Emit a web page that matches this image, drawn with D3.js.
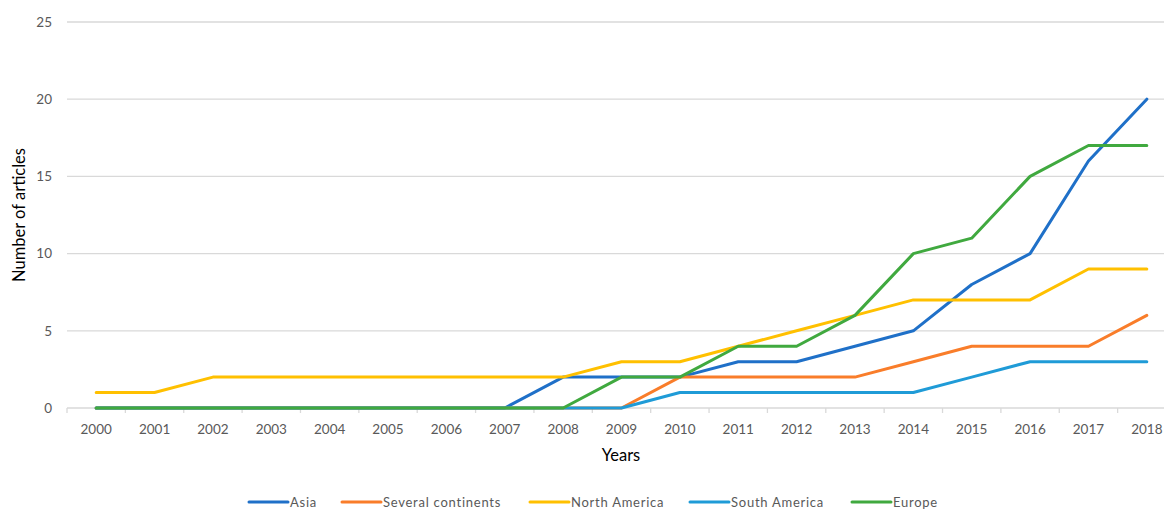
<!DOCTYPE html>
<html>
<head>
<meta charset="utf-8">
<script src="https://cdn.jsdelivr.net/npm/d3@7"></script>
<style>
  html, body { margin: 0; padding: 0; background: #fff; }
  svg { display: block; }
  text { font-family: Lato, "Open Sans", "Liberation Sans", sans-serif; }
</style>
</head>
<body>
<svg id="chart" width="1164" height="510"></svg>
<script>
// Publication counts per region and year
const years = ["2000","2001","2002","2003","2004","2005","2006","2007","2008","2009",
               "2010","2011","2012","2013","2014","2015","2016","2017","2018"];
const asia           = [0,0,0,0,0,0,0,0,2,2,2,3,3,4,5,8,10,16,20];
const severalCont    = [0,0,0,0,0,0,0,0,0,0,2,2,2,2,3,4,4,4,6];
const northAmerica   = [1,1,2,2,2,2,2,2,2,3,3,4,5,6,7,7,7,9,9];
const southAmerica   = [0,0,0,0,0,0,0,0,0,0,1,1,1,1,1,2,3,3,3];
const europe         = [0,0,0,0,0,0,0,0,0,2,2,4,4,6,10,11,15,17,17];
const seriesNames    = ["Asia","Several continents","North America","South America","Europe"];
const seriesColors   = ["#1f70c8","#f97d2a","#ffc000","#1f9bd7","#40a93f"];
const yTicks         = [0,5,10,15,20,25];

const seriesValues = [asia, severalCont, northAmerica, southAmerica, europe];
const series = seriesNames.map((name, i) => ({ name, color: seriesColors[i], values: seriesValues[i] }));

const svg = d3.select("#chart");
const margin = { left: 67, top: 22, bottom: 102 };
const plotW = 1109;   // plot area runs past the right edge of the frame
const plotH = 510 - margin.top - margin.bottom;

const x = d3.scaleBand().domain(years).range([margin.left, margin.left + plotW]);
const y = d3.scaleLinear().domain([0, 25]).range([margin.top + plotH, margin.top]);
const cx = d => x(d) + x.bandwidth() / 2;

// Horizontal gridlines
svg.append("g")
  .selectAll("line")
  .data(yTicks)
  .join("line")
  .attr("x1", margin.left).attr("x2", margin.left + plotW)
  .attr("y1", d => y(d)).attr("y2", d => y(d))
  .attr("stroke", "#d9d9d9").attr("stroke-width", 1.3);

// Y axis labels
const yAxis = d3.axisLeft(y).tickValues(yTicks).tickSize(0).tickPadding(15);
svg.append("g")
  .attr("transform", `translate(${margin.left},0)`)
  .call(yAxis)
  .call(g => g.select(".domain").remove())
  .call(g => g.selectAll("text").attr("fill", "#595959").attr("font-size", 13.5));

// X axis: category labels with ticks at the band boundaries
const xAxis = d3.axisBottom(x).tickSize(0).tickPadding(16);
svg.append("g")
  .attr("transform", `translate(0,${y(0)})`)
  .call(xAxis)
  .call(g => g.select(".domain").remove())
  .call(g => g.selectAll("text").attr("fill", "#595959").attr("font-size", 13.5));

svg.append("g")
  .selectAll("line")
  .data(years.concat(["end"]))
  .join("line")
  .attr("x1", (d, i) => margin.left + i * x.bandwidth())
  .attr("x2", (d, i) => margin.left + i * x.bandwidth())
  .attr("y1", y(0)).attr("y2", y(0) + 5)
  .attr("stroke", "#d9d9d9").attr("stroke-width", 1.3);

// Series lines
const line = d3.line().x((v, i) => cx(years[i])).y(v => y(v));
svg.append("g")
  .selectAll("path")
  .data(series)
  .join("path")
  .attr("d", d => line(d.values))
  .attr("fill", "none")
  .attr("stroke", d => d.color)
  .attr("stroke-width", 3)
  .attr("stroke-linejoin", "round")
  .attr("stroke-linecap", "round");

// Axis titles
svg.append("text")
  .attr("x", 621).attr("y", 461)
  .attr("text-anchor", "middle")
  .attr("font-size", 16.5).attr("fill", "#000")
  .text("Years");

svg.append("text")
  .attr("transform", `translate(25,${(y(0) + y(25)) / 2}) rotate(-90)`)
  .attr("text-anchor", "middle")
  .attr("font-size", 16.5).attr("fill", "#000")
  .text("Number of articles");

// Legend
const legendX = [249, 342, 530, 690, 852];
const lg = svg.append("g")
  .selectAll("g")
  .data(series)
  .join("g")
  .attr("transform", (d, i) => `translate(${legendX[i]},502)`);
lg.append("line")
  .attr("x1", 0).attr("x2", 39)
  .attr("stroke", d => d.color).attr("stroke-width", 3)
  .attr("stroke-linecap", "round");
lg.append("text")
  .attr("x", 41).attr("dy", "0.35em")
  .attr("font-size", 13).attr("fill", "#595959")
  .attr("letter-spacing", 0.75)
  .text(d => d.name);
</script>
</body>
</html>
